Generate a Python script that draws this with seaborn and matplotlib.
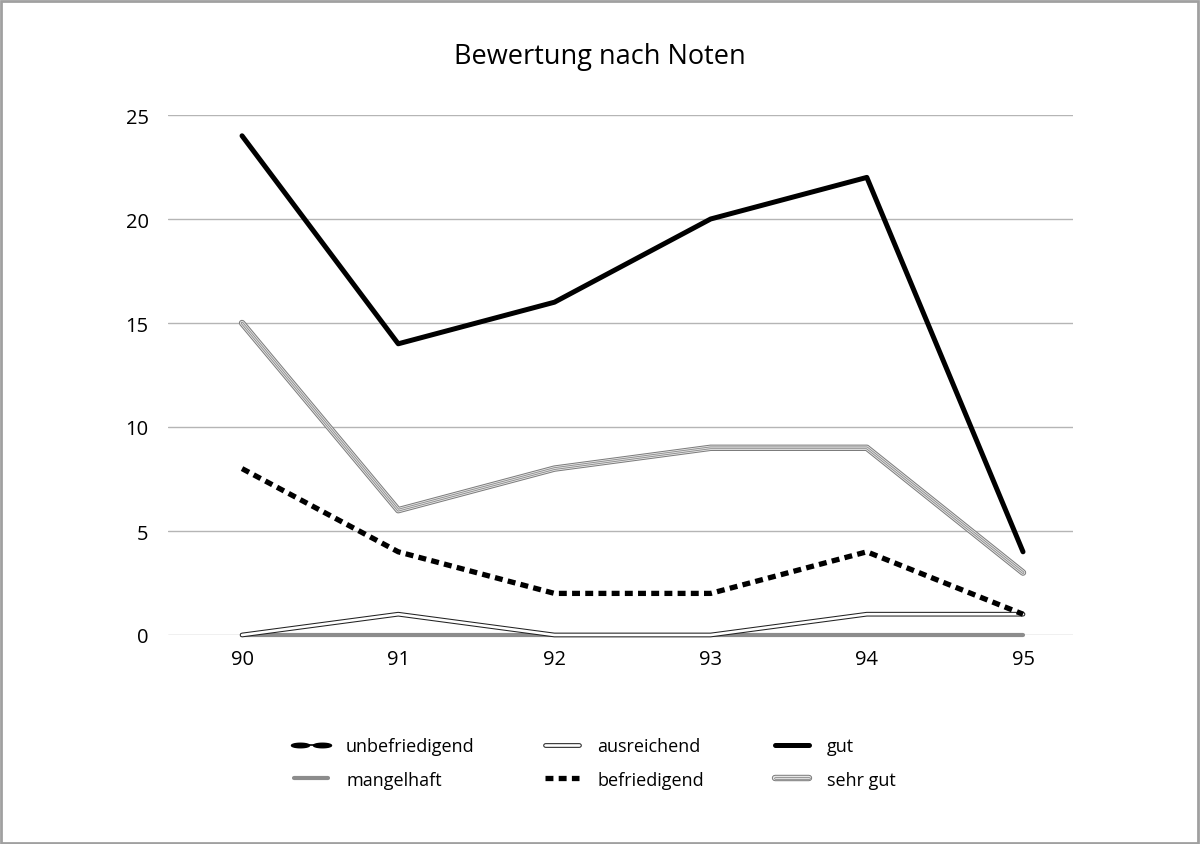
import matplotlib
matplotlib.use("Agg")
import matplotlib.pyplot as plt
import matplotlib.patheffects as pe
from matplotlib.lines import Line2D
from matplotlib.patches import Rectangle
from matplotlib.path import Path
from matplotlib.legend_handler import HandlerLine2D
import numpy as np
import seaborn as sns
import pandas as pd

years = [90, 91, 92, 93, 94, 95]
unbefriedigend = [0, 0, 0, 0, 0, 0]
mangelhaft = [0, 0, 0, 0, 0, 0]
ausreichend = [0, 1, 0, 0, 1, 1]
befriedigend = [8, 4, 2, 2, 4, 1]
gut = [24, 14, 16, 20, 22, 4]
sehr_gut = [15, 6, 8, 9, 9, 3]
y_ticks = [0, 5, 10, 15, 20, 25]
title = "Bewertung nach Noten"

sns.set_theme(style="white")
plt.rcParams['font.family'] = ['Open Sans', 'DejaVu Sans']
plt.rcParams['text.color'] = 'black'

fig = plt.figure(figsize=(12, 8.45), dpi=100)
ax = fig.add_axes([168/1200, (845-636)/845, (1073-168)/1200, 520/845])

def draw(vals, label, **kw):
    df = pd.DataFrame({"Jahr": years, "Wert": vals})
    sns.lineplot(data=df, x="Jahr", y="Wert", ax=ax, label=label, **kw)
    line = ax.get_lines()[-1]
    line.set_clip_on(False)
    return line

aus_fx = [pe.Stroke(linewidth=3.4, foreground="#222222"), pe.Normal()]
sg_fx = [pe.Stroke(linewidth=4.6, foreground="#7a7a7a"),
         pe.Stroke(linewidth=3.2, foreground="#e6e6e6"),
         pe.Stroke(linewidth=1.9, foreground="#8a8a8a"),
         pe.Stroke(linewidth=0.7, foreground="#e0e0e0")]

l_unb = draw(unbefriedigend, "unbefriedigend", color="black", linewidth=1.2)
l_man = draw(mangelhaft, "mangelhaft", color="#8c8c8c", linewidth=3)
l_aus = draw(ausreichend, "ausreichend", color="white", linewidth=1.9)
l_aus.set_path_effects(aus_fx)
l_bef = draw(befriedigend, "befriedigend", color="black", linewidth=3.8)
l_bef.set_dashes([1.5, 1.0])
l_gut = draw(gut, "gut", color="black", linewidth=3.6)
l_sg = draw(sehr_gut, "sehr gut", color="#d8d8d8", linewidth=0.7)
l_sg.set_path_effects(sg_fx)

ax.set_xlim(89.526, 95.32)
ax.set_ylim(0, 25)
ax.set_yticks(y_ticks)
ax.set_xticks(years)
ax.set_xticklabels([str(y) for y in years])
ax.grid(axis="y", color="#b5b5b5", linewidth=1)
ax.grid(axis="x", visible=False)
for s in ax.spines.values():
    s.set_visible(False)
ax.tick_params(axis="both", length=0, labelsize=14.5, colors="black")
ax.tick_params(axis="y", pad=14)
ax.tick_params(axis="x", pad=10)
ax.set_xlabel("")
ax.set_ylabel("")

fig.text(0.5, 1 - 57/845, title, ha="center", va="center", fontsize=19.5, color="black")

# legend handles
t = np.linspace(0, 2*np.pi, 40)
ell = Path(np.column_stack([np.cos(t), 0.25*np.sin(t)]), closed=True)
h_unb = Line2D([], [], color="black", linewidth=1.2, marker=ell, markersize=13,
               markerfacecolor="black", markeredgecolor="black")
h_man = Line2D([], [], color="#8c8c8c", linewidth=3)
h_aus = Line2D([], [], color="white", linewidth=1.9, path_effects=aus_fx)
h_bef = Line2D([], [], color="black", linewidth=3.8, dashes=[1.5, 1.0])
h_gut = Line2D([], [], color="black", linewidth=3.6)
h_sg = Line2D([], [], color="#d8d8d8", linewidth=0.7, path_effects=sg_fx)
handles = [h_unb, h_man, h_aus, h_bef, h_gut, h_sg]
labels = ["unbefriedigend", "mangelhaft", "ausreichend", "befriedigend", "gut", "sehr gut"]
leg = ax.legend(handles, labels, ncol=3, loc="center", numpoints=2, markerscale=1,
                handler_map={h_unb: HandlerLine2D(numpoints=2, marker_pad=0.65)},
                bbox_to_anchor=(592/1200, 1 - 764/845), bbox_transform=fig.transFigure,
                frameon=False, fontsize=13, handlelength=2.5, columnspacing=3.6,
                handletextpad=0.7, labelspacing=0.85)
for txt in leg.get_texts():
    txt.set_color("black")

fig.patches.append(Rectangle((0.001, 0.001), 0.997, 0.997, transform=fig.transFigure,
                             fill=False, edgecolor="#a0a0a0", linewidth=2))

fig.savefig("out.png", dpi=100)
